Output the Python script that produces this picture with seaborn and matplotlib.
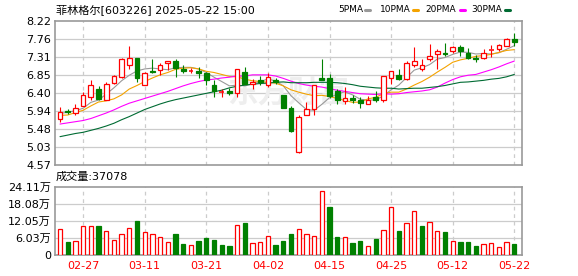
import matplotlib
matplotlib.use("Agg")
import matplotlib.pyplot as plt
from matplotlib.patches import Rectangle
from matplotlib.lines import Line2D
import numpy as np
import pandas as pd
import seaborn as sns

# ---------------- data ----------------
dates = ["02-24", "02-25", "02-26", "02-27", "02-28", "03-03", "03-04", "03-05", "03-06", "03-07",
         "03-10", "03-11", "03-12", "03-13", "03-14", "03-17", "03-18", "03-19", "03-20", "03-21",
         "03-24", "03-25", "03-26", "03-27", "03-28", "03-31", "04-01", "04-02", "04-03", "04-07",
         "04-08", "04-09", "04-10", "04-11", "04-14", "04-15", "04-16", "04-17", "04-18", "04-21",
         "04-22", "04-23", "04-24", "04-25", "04-28", "04-29", "04-30", "05-06", "05-07", "05-08",
         "05-09", "05-12", "05-13", "05-14", "05-15", "05-16", "05-19", "05-20", "05-21", "05-22"]

opens = [5.74, 5.95, 5.90, 6.08, 6.29, 6.49, 6.23, 6.66, 6.81, 7.10,
         7.29, 6.59, 6.96, 6.98, 7.15, 7.20, 7.02, 6.95, 6.96, 6.90,
         6.61, 6.42, 6.44, 6.39, 6.93, 6.62, 6.72, 6.59, 6.74, 6.34,
         6.01, 4.89, 5.83, 6.00, 6.78, 6.78, 6.44, 6.20, 6.27, 6.22,
         6.13, 6.29, 6.23, 6.78, 6.86, 6.76, 7.10, 7.02, 7.25, 7.39,
         7.42, 7.46, 7.56, 7.42, 7.30, 7.29, 7.49, 7.52, 7.58, 7.76]
highs = [6.05, 6.00, 6.12, 6.42, 6.73, 6.57, 6.69, 6.86, 7.29, 7.59,
         7.30, 6.93, 7.25, 7.17, 7.21, 7.27, 7.10, 7.03, 7.05, 6.93,
         6.74, 6.51, 6.52, 7.00, 7.07, 6.76, 6.83, 6.90, 6.79, 6.35,
         6.07, 5.83, 6.17, 6.59, 7.25, 6.88, 6.49, 6.56, 6.34, 6.29,
         6.32, 6.46, 6.83, 6.96, 7.02, 7.20, 7.56, 7.25, 7.64, 7.51,
         7.66, 7.58, 7.63, 7.54, 7.37, 7.51, 7.63, 7.64, 7.80, 7.93]
lows = [5.66, 5.86, 5.84, 6.08, 6.23, 6.22, 6.22, 6.64, 6.79, 7.02,
        6.68, 6.59, 6.91, 6.86, 6.98, 6.81, 6.90, 6.90, 6.79, 6.61,
        6.30, 6.30, 6.34, 6.29, 6.62, 6.49, 6.59, 6.56, 6.64, 6.03,
        5.40, 4.88, 5.83, 5.84, 6.73, 6.27, 6.12, 6.13, 6.15, 6.03,
        6.12, 6.18, 6.17, 6.62, 6.74, 6.74, 7.07, 6.96, 7.22, 7.02,
        7.34, 7.42, 7.35, 7.25, 7.18, 7.27, 7.32, 7.47, 7.58, 7.58]
closes = [5.91, 5.91, 6.03, 6.34, 6.59, 6.25, 6.62, 6.83, 7.25, 7.30,
          6.79, 6.90, 6.93, 7.12, 7.20, 7.03, 6.96, 6.96, 6.90, 6.73,
          6.44, 6.43, 6.40, 7.00, 6.64, 6.68, 6.69, 6.81, 6.69, 6.03,
          5.44, 5.78, 5.98, 6.59, 6.74, 6.32, 6.22, 6.27, 6.22, 6.15,
          6.23, 6.22, 6.83, 6.95, 6.76, 7.17, 7.20, 7.12, 7.35, 7.46,
          7.39, 7.56, 7.46, 7.29, 7.25, 7.42, 7.51, 7.61, 7.76, 7.69]

ma5 = [5.88, 5.91, 5.95, 6.01, 6.16, 6.22, 6.37, 6.53, 6.71, 6.85,
       6.96, 7.01, 7.03, 7.01, 6.99, 7.04, 7.05, 7.05, 7.01, 6.92,
       6.80, 6.69, 6.58, 6.60, 6.58, 6.63, 6.68, 6.76, 6.70, 6.58,
       6.33, 6.15, 5.98, 5.96, 6.11, 6.28, 6.37, 6.43, 6.35, 6.24,
       6.22, 6.22, 6.33, 6.48, 6.60, 6.79, 6.98, 7.04, 7.12, 7.26,
       7.30, 7.38, 7.44, 7.43, 7.39, 7.40, 7.39, 7.42, 7.51, 7.60]
ma10 = [5.83, 5.84, 5.90, 5.96, 6.07, 6.17, 6.20, 6.25, 6.35, 6.50,
        6.59, 6.69, 6.78, 6.86, 6.92, 7.00, 7.03, 7.04, 7.01, 6.95,
        6.92, 6.87, 6.82, 6.81, 6.75, 6.71, 6.69, 6.67, 6.65, 6.58,
        6.48, 6.42, 6.37, 6.33, 6.34, 6.31, 6.26, 6.21, 6.16, 6.17,
        6.25, 6.29, 6.38, 6.42, 6.42, 6.50, 6.60, 6.69, 6.80, 6.93,
        7.05, 7.18, 7.24, 7.28, 7.33, 7.35, 7.38, 7.43, 7.48, 7.50]
ma20 = [5.61, 5.64, 5.67, 5.70, 5.75, 5.82, 5.89, 5.97, 6.06, 6.14,
        6.20, 6.26, 6.32, 6.38, 6.44, 6.51, 6.58, 6.64, 6.69, 6.73,
        6.75, 6.78, 6.80, 6.83, 6.83, 6.86, 6.86, 6.86, 6.83, 6.77,
        6.70, 6.64, 6.60, 6.57, 6.55, 6.51, 6.47, 6.44, 6.41, 6.38,
        6.37, 6.36, 6.38, 6.37, 6.38, 6.41, 6.43, 6.45, 6.48, 6.55,
        6.65, 6.74, 6.81, 6.85, 6.87, 6.93, 6.99, 7.06, 7.14, 7.21]
ma30 = [5.29, 5.33, 5.37, 5.40, 5.45, 5.50, 5.56, 5.63, 5.72, 5.80,
        5.89, 5.98, 6.05, 6.12, 6.18, 6.23, 6.27, 6.31, 6.35, 6.39,
        6.43, 6.47, 6.53, 6.57, 6.60, 6.62, 6.64, 6.65, 6.67, 6.68,
        6.66, 6.66, 6.66, 6.67, 6.67, 6.67, 6.66, 6.64, 6.61, 6.57,
        6.55, 6.53, 6.52, 6.52, 6.50, 6.51, 6.52, 6.52, 6.54, 6.56,
        6.59, 6.63, 6.67, 6.68, 6.70, 6.72, 6.75, 6.77, 6.81, 6.87]

# volume in 万 (10k shares)
volumes = [9.0, 4.6, 4.9, 10.2, 10.2, 10.2, 8.4, 5.3, 7.4, 9.5,
           12.0, 8.1, 7.4, 6.3, 4.6, 7.4, 3.9, 3.5, 4.9, 6.0,
           5.3, 3.5, 3.2, 10.5, 11.2, 4.2, 4.6, 6.7, 3.5, 4.9,
           7.4, 9.0, 7.4, 6.7, 22.4, 16.9, 6.3, 6.3, 4.2, 4.9,
           3.2, 5.6, 8.8, 16.9, 8.4, 11.2, 15.5, 10.2, 11.6, 8.4,
           8.1, 4.9, 4.6, 4.6, 3.2, 3.9, 4.2, 2.8, 4.6, 3.7078]
vol_up = [1, 0, 1, 1, 1, 0, 1, 1, 1, 1,
          0, 1, 1, 1, 1, 0, 0, 1, 0, 0,
          0, 0, 0, 1, 0, 1, 1, 1, 0, 0,
          0, 1, 1, 1, 1, 0, 0, 1, 0, 0,
          1, 0, 1, 1, 0, 1, 1, 0, 1, 1,
          0, 1, 0, 0, 0, 1, 1, 1, 1, 0]

price_ticks = [4.57, 5.03, 5.48, 5.94, 6.40, 6.85, 7.31, 7.76, 8.22]
price_tick_labels = ["4.57", "5.03", "5.48", "5.94", "6.40", "6.85", "7.31", "7.76", "8.22"]
vol_ticks = [0, 6.03, 12.05, 18.08, 24.11]
vol_tick_labels = ["0", "6.03万", "12.05万", "18.08万", "24.11万"]
date_tick_labels = ["02-27", "03-11", "03-21", "04-02", "04-15", "04-25", "05-12", "05-22"]

title_text = "菲林格尔[603226] 2025-05-22 15:00"
vol_title = "成交量:37078"
ma_names = ["5PMA", "10PMA", "20PMA", "30PMA"]

# ---------------- style ----------------
sns.set_theme(style="white")
plt.rcParams["font.family"] = ["DejaVu Sans", "Noto Sans CJK SC"]
plt.rcParams["axes.unicode_minus"] = False

RED = "#ff0000"
GREEN = "#008000"
MA_COLORS = ["#999999", "#f4a300", "#ff00ff", "#006b33"]
GRID = "#cccccc"
SPINE = "#999999"

W, H = 578, 276
fig = plt.figure(figsize=(W / 100, H / 100), dpi=100)
fig.patch.set_facecolor("white")

def px_axes(left, top, right, bottom):
    return fig.add_axes([left / W, 1 - bottom / H, (right - left) / W, (bottom - top) / H])

ax = px_axes(55, 21.3, 522, 165)
axv = px_axes(55, 186.5, 522, 255)

n = len(dates)
idx = np.arange(n)
df = pd.DataFrame({"i": idx, "date": dates, "open": opens, "high": highs,
                   "low": lows, "close": closes, "ma5": ma5, "ma10": ma10,
                   "ma20": ma20, "ma30": ma30, "vol": volumes, "up": vol_up})

xlim = (-0.65, n - 0.0)
tick_pos = [dates.index(d) for d in date_tick_labels]

for a in (ax, axv):
    a.set_facecolor("white")
    a.set_xlim(*xlim)
    for s in a.spines.values():
        s.set_color(SPINE)
        s.set_linewidth(1.2)
        s.set_visible(True)
    for p in tick_pos:
        a.axvline(p, color=GRID, lw=0.9, ls=(0, (3, 3)), zorder=0.5)
    a.tick_params(axis="both", length=0, pad=3, labelsize=8, colors="black")

# price panel
ax.set_ylim(price_ticks[0], price_ticks[-1])
ax.set_yticks(price_ticks)
ax.set_yticklabels(price_tick_labels)
for t in price_ticks[1:-1]:
    ax.axhline(t, color=GRID, lw=0.9, zorder=0.5)
ax.set_xticks([])

ax.text(0.50, 0.505, "东方财富", transform=ax.transAxes, fontsize=22, fontweight="bold",
        color="#eeeeee", ha="center", va="center", zorder=0.6,
        family=["Noto Sans CJK SC"])

bw = 0.62
for r in df.itertuples():
    up = r.close >= r.open
    col = RED if up else GREEN
    lo_b, hi_b = min(r.open, r.close), max(r.open, r.close)
    ax.vlines(r.i, r.low, lo_b, color=col, lw=0.8, zorder=3)
    ax.vlines(r.i, hi_b, r.high, color=col, lw=0.8, zorder=3)
    if hi_b - lo_b < 0.02:
        ax.hlines((lo_b + hi_b) / 2, r.i - bw / 2, r.i + bw / 2, color=col, lw=1.1, zorder=4)
    else:
        ax.add_patch(Rectangle((r.i - bw / 2, lo_b), bw, hi_b - lo_b,
                               facecolor="white" if up else GREEN, edgecolor=col,
                               lw=0.9, zorder=4))

for name, c in zip(["ma5", "ma10", "ma20", "ma30"], MA_COLORS):
    sns.lineplot(data=df, x="i", y=name, ax=ax, color=c, lw=0.8, zorder=2, legend=False)
ax.set_xlabel("")
ax.set_ylabel("")
ax.set_xlim(*xlim)

# volume panel
axv.set_ylim(0, vol_ticks[-1])
axv.set_yticks(vol_ticks)
axv.set_yticklabels(vol_tick_labels)
for t in vol_ticks[1:-1]:
    axv.axhline(t, color=GRID, lw=0.9, zorder=0.5)
vw = 0.56
for r in df.itertuples():
    if r.up:
        axv.bar(r.i, r.vol, width=vw, facecolor="white", edgecolor=RED, lw=0.9, zorder=3)
    else:
        axv.bar(r.i, r.vol, width=vw, facecolor=GREEN, edgecolor=GREEN, lw=0.9, zorder=3)
axv.set_xticks(tick_pos)
axv.set_xticklabels(date_tick_labels)
axv.tick_params(axis="x", colors=RED, pad=4)
axv.set_xlim(*xlim)

# texts
fig.text(56 / W, 1 - 10 / H, title_text, fontsize=8, ha="left", va="center", color="black")
fig.text(56 / W, 1 - 177 / H, vol_title, fontsize=8, ha="left", va="center", color="black")

label_x = [338.7, 380, 425, 471]
mark_x = [365, 413, 460, 505]
for name, c, lx, mx in zip(ma_names, MA_COLORS, label_x, mark_x):
    fig.text(lx / W, 1 - 9.5 / H, name, fontsize=6.5, ha="left", va="center", color="black")
    fig.add_artist(Line2D([mx / W, (mx + 5) / W], [1 - 9.5 / H, 1 - 9.5 / H],
                          color=c, lw=2.2, transform=fig.transFigure))

fig.savefig("out.png", dpi=100, facecolor="white")
